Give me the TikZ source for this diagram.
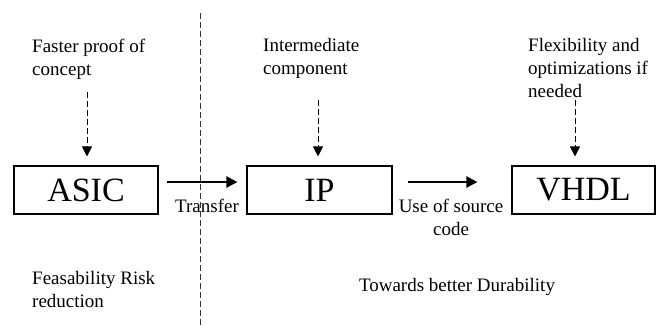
\documentclass[tikz,border=0pt]{standalone}
\usepackage{fontspec}
\setmainfont{Liberation Serif}
\usetikzlibrary{arrows.meta}
\begin{document}
\begin{tikzpicture}[x=1pt, y=-1pt,
  block/.style={draw, line width=1.1pt, minimum width=144pt, minimum height=48pt, inner sep=0pt, font=\fontsize{34}{40}\selectfont},
  note/.style={inner sep=0pt, align=left, font=\fontsize{19}{23}\selectfont},
  feed/.style={line width=0.8pt, dash pattern=on 6pt off 3pt, -{Triangle[width=10pt,length=10pt]}},
  flow/.style={line width=2.2pt, -{Triangle[width=11pt,length=11pt]}}]
  \useasboundingbox (0, 0) rectangle (656, 325);
  \draw[line width=0.8pt, dash pattern=on 6pt off 3pt, black!80] (200, 13) coordinate (sep1) -- (200, 325) coordinate (sep2);
  \node[block] (asic) at (86, 190) {ASIC};
  \node[block, minimum width=145pt] (ip) at (319.5, 190) {IP};
  \node[block, minimum width=143pt] (vhdl) at (583.5, 190) {VHDL};
  \node[note, anchor=north west] (faster) at (32, 38.5) {Faster proof of\\concept};
  \node[note, anchor=north west] (inter) at (263, 38.5) {Intermediate\\component};
  \node[note, anchor=north west] (flex) at (528, 38.5) {Flexibility and\\optimizations if\\needed};
  \coordinate (asic-in) at (87, 92);
  \coordinate (ip-in) at (318, 100);
  \coordinate (vhdl-in) at (575, 100);
  \draw[feed, shorten >=9pt] (asic-in) -- (asic-in |- asic.north);
  \draw[feed, shorten >=9pt] (ip-in) -- (ip-in |- ip.north);
  \draw[feed, shorten >=9pt] (vhdl-in) -- (vhdl-in |- vhdl.north);
  \draw[flow, shorten <=8pt, shorten >=9pt] ([yshift=8pt]asic.east) -- ([yshift=8pt]ip.west);
  \draw[flow, shorten <=15pt, shorten >=34pt] ([yshift=8pt]ip.east) -- ([yshift=8pt]vhdl.west);
  \node[note, anchor=base] (transfer) at (207, 212) {Transfer};
  \node[note, align=center, anchor=north] (source) at (451, 198.5) {Use of source\\code};
  \node[note, anchor=north west] (risk) at (32, 271.5) {Feasability Risk\\reduction};
  \node[note, anchor=base] (durable) at (457, 291) {Towards better Durability};
\end{tikzpicture}
\end{document}
